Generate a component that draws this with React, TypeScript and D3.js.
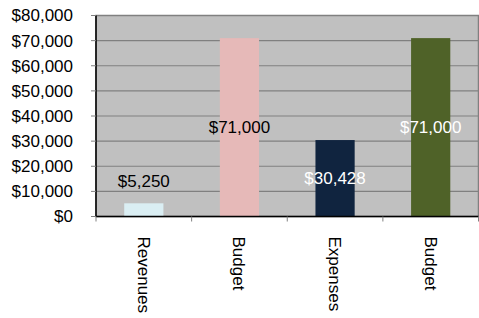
import * as d3 from "d3";

const categories = ["Revenues", "Budget", "Expenses", "Budget "];
const values = [5250, 71000, 30428, 71000];
const barColors = ["#DAEEF3", "#E6B9B8", "#10243F", "#4F6228"];
const labelColors = ["#000", "#000", "#fff", "#fff"];
const yTicks = [0, 10000, 20000, 30000, 40000, 50000, 60000, 70000, 80000];

const W = 479;
const H = 318;
const m = { top: 15.5, right: 0.5, bottom: 101.5, left: 96 };
const font = "'Liberation Sans', Arial, sans-serif";

export default function App() {
  const x = d3
    .scaleBand<string>()
    .domain(categories)
    .range([m.left, W - m.right])
    .paddingInner(0.59)
    .paddingOuter(0.295);
  const y = d3.scaleLinear().domain([0, 80000]).range([H - m.bottom, m.top]);
  const fmt = (v: number) => "$" + d3.format(",")(v);
  const bands = d3.scaleBand<string>().domain(categories).range([m.left, W - m.right]);

  return (
    <svg width={W} height={H} style={{ position: "absolute", left: 0, top: 0 }} fontFamily={font}>
      <rect x={m.left} y={m.top} width={W - m.right - m.left} height={y(0) - m.top} fill="#C0C0C0" stroke="#808080" strokeWidth={1.5} />
      {yTicks.slice(1, -1).map((t) => (
        <line key={t} x1={m.left} x2={W - m.right} y1={y(t)} y2={y(t)} stroke="#808080" strokeWidth={1.2} />
      ))}
      {categories.map((c, i) => {
        const v = values[i];
        const bx = x(c)!;
        const top = y(v);
        const inside = y(0) - top > 30;
        const ly = inside ? (top + y(0)) / 2 : top - 22;
        return (
          <g key={c}>
            <rect x={bx} y={top} width={x.bandwidth()} height={y(0) - top} fill={barColors[i]} />
            <text x={bx + x.bandwidth() / 2} y={ly} dy="0.35em" textAnchor="middle" fontSize={17} fill={labelColors[i]}>
              {fmt(v)}
            </text>
          </g>
        );
      })}
      {/* y axis */}
      <line x1={m.left} x2={m.left} y1={m.top} y2={y(0)} stroke="#000" strokeWidth={1.5} />
      {yTicks.map((t) => (
        <g key={t}>
          <line x1={m.left - 5} x2={m.left} y1={y(t)} y2={y(t)} stroke="#808080" strokeWidth={1} />
          <text x={73} y={y(t)} dy="0.35em" textAnchor="end" fontSize={17} fill="#000">
            {fmt(t)}
          </text>
        </g>
      ))}
      {/* x axis */}
      <line x1={m.left} x2={W - m.right} y1={y(0)} y2={y(0)} stroke="#000" strokeWidth={1.5} />
      {[...categories.map((c) => bands(c)!), W - m.right].map((tx, i) => (
        <line key={i} x1={tx} x2={tx} y1={y(0)} y2={y(0) + 5} stroke="#808080" strokeWidth={1} />
      ))}
      {categories.map((c) => {
        const cx = x(c)! + x.bandwidth() / 2;
        const ty = y(0) + 20;
        return (
          <text key={c} transform={`translate(${cx},${ty}) rotate(90)`} dy="0.35em" fontSize={17} fill="#000">
            {c.trim()}
          </text>
        );
      })}
    </svg>
  );
}
